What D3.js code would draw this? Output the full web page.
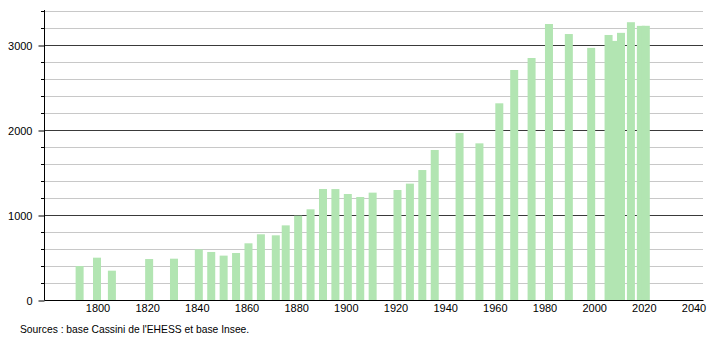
<!DOCTYPE html>
<html>
<head>
<meta charset="utf-8">
<script src="https://cdn.jsdelivr.net/npm/d3@7"></script>
<style>
  body { margin: 0; background: #fff; }
  text { font-family: "Liberation Sans", Arial, sans-serif; }
</style>
</head>
<body>
<div id="chart"></div>
<script>
// Population by census year
const years = [1793, 1800, 1806, 1821, 1831, 1841, 1846, 1851, 1856, 1861, 1866, 1872, 1876,
  1881, 1886, 1891, 1896, 1901, 1906, 1911, 1921, 1926, 1931, 1936, 1946, 1954, 1962, 1968,
  1975, 1982, 1990, 1999, 2006, 2008, 2011, 2015, 2019, 2021];
const population = [400, 498, 345, 482, 486, 596, 565, 522, 553, 667, 773, 761, 878,
  992, 1067, 1306, 1305, 1247, 1212, 1263, 1294, 1369, 1529, 1765, 1965, 1843, 2314, 2706,
  2847, 3247, 3129, 2966, 3118, 3048, 3143, 3268, 3225, 3226];
const xTicks = [1800, 1820, 1840, 1860, 1880, 1900, 1920, 1940, 1960, 1980, 2000, 2020, 2040];
const yTicks = [0, 1000, 2000, 3000];
const sourceText = "Sources : base Cassini de l'EHESS et base Insee.";

const width = 710;
const height = 340;
const margin = {left: 44, right: 7, top: 10, bottom: 40};
const barWidth = 8;

const svg = d3.select("#chart")
  .append("svg")
  .attr("width", width)
  .attr("height", height);

// Scales
const xScale = d3.scaleLinear()
  .domain([1800, 2040])
  .range([97, 693]);

const yScale = d3.scaleLinear()
  .domain([0, 3400])
  .range([height - margin.bottom, 11]);

// Grid lines: light every 200, dark every 1000
const gridVals = d3.range(200, 3401, 200);
svg.append("g")
  .selectAll("line")
  .data(gridVals)
  .enter()
  .append("line")
    .attr("x1", margin.left)
    .attr("x2", width - margin.right)
    .attr("y1", d => Math.round(yScale(d)) + 0.5)
    .attr("y2", d => Math.round(yScale(d)) + 0.5)
    .attr("stroke", d => d % 1000 === 0 ? "#3a3a3a" : "#c8c8c8")
    .attr("stroke-width", 1);

// Bars
svg.selectAll(".bar")
  .data(years)
  .enter()
  .append("rect")
    .attr("class", "bar")
    .attr("x", (d) => xScale(d) - barWidth / 2)
    .attr("y", (d, i) => yScale(population[i]))
    .attr("width", barWidth)
    .attr("height", (d, i) => yScale(0) - yScale(population[i]))
    .attr("fill", "#b2e5b2");

// Y axis
const yAxis = svg.append("g")
  .attr("transform", `translate(${margin.left + 0.5}, 0.5)`)
  .call(d3.axisLeft(yScale)
    .tickValues(yTicks)
    .tickFormat(d3.format("d"))
    .tickSize(6)
    .tickSizeOuter(0)
    .tickPadding(6));
yAxis.select(".domain").attr("stroke", "#000").attr("d", `M0,${margin.top - 0.5}V${yScale(0)}`);
yAxis.selectAll(".tick line").attr("stroke", "#000");
yAxis.selectAll("text").attr("font-size", "11px").attr("fill", "#000")
  .attr("font-family", "Liberation Sans, Arial, sans-serif");

// minor y ticks
svg.append("g")
  .selectAll("line")
  .data(gridVals.filter(d => d % 1000 !== 0))
  .enter()
  .append("line")
    .attr("x1", margin.left - 3)
    .attr("x2", margin.left)
    .attr("y1", d => Math.round(yScale(d)) + 0.5)
    .attr("y2", d => Math.round(yScale(d)) + 0.5)
    .attr("stroke", "#000");

// X axis
const xAxis = svg.append("g")
  .attr("transform", `translate(0.5, ${Math.round(yScale(0)) + 0.5})`)
  .call(d3.axisBottom(xScale)
    .tickValues(xTicks)
    .tickFormat(d3.format("d"))
    .tickSize(0)
    .tickPadding(4));
xAxis.select(".domain").attr("stroke", "#000").attr("d", `M${margin.left},0H${width - margin.right}`);
xAxis.selectAll("text").attr("font-size", "11px").attr("fill", "#000")
  .attr("font-family", "Liberation Sans, Arial, sans-serif");

// Source line
svg.append("text")
  .attr("x", 20)
  .attr("y", 333)
  .attr("font-size", "10.3px")
  .attr("fill", "#000")
  .text(sourceText);
</script>
</body>
</html>
